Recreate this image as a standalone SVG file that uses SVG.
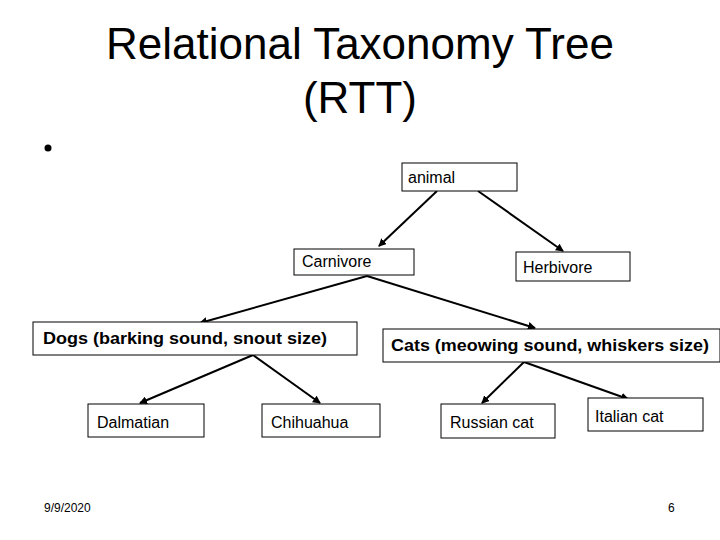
<svg xmlns="http://www.w3.org/2000/svg" width="720" height="540" viewBox="0 0 720 540">
<style>
.b{fill:#fff;stroke:#000;stroke-width:1}
.t{font-family:"Liberation Sans",Arial,sans-serif;font-size:16px;fill:#000}
.bd{font-weight:bold}
.c line{stroke:#000;stroke-width:2;marker-end:url(#a)}
</style>
<defs><marker id="a" markerWidth="8" markerHeight="8" refX="7" refY="4" orient="auto" markerUnits="userSpaceOnUse"><path d="M0,0 L8,4 L0,8 z" fill="#000"/></marker></defs>
<rect width="720" height="540" fill="#fff"/>
<text x="360" y="59" text-anchor="middle" font-family="Liberation Sans,Arial,sans-serif" font-size="44">Relational Taxonomy Tree</text>
<text x="360" y="113" text-anchor="middle" font-family="Liberation Sans,Arial,sans-serif" font-size="44">(RTT)</text>
<circle cx="48" cy="148" r="3.5" fill="#000"/>
<g class="c">
<line x1="437" y1="191" x2="379" y2="246"/>
<line x1="478" y1="191" x2="563" y2="251"/>
<line x1="367" y1="276" x2="200" y2="323"/>
<line x1="367" y1="276" x2="535" y2="328"/>
<line x1="253" y1="355" x2="140" y2="403"/>
<line x1="253" y1="355" x2="320" y2="403"/>
<line x1="524" y1="362" x2="482" y2="403"/>
<line x1="524" y1="362" x2="628" y2="399"/>
</g>
<g id="animal"><rect class="b" x="402" y="163" width="115" height="28"/><text class="t" x="408" y="183">animal</text></g>
<g id="carnivore"><rect class="b" x="294" y="249" width="120" height="26"/><text class="t" x="302" y="267">Carnivore</text></g>
<g id="herbivore"><rect class="b" x="516" y="252" width="114" height="29"/><text class="t" x="523" y="273">Herbivore</text></g>
<g id="dogs"><rect class="b" x="33" y="322" width="324" height="33"/><text class="t bd" x="43" y="344" textLength="284" lengthAdjust="spacingAndGlyphs">Dogs (barking sound, snout size)</text></g>
<g id="cats"><rect class="b" x="383" y="329" width="337" height="33"/><text class="t bd" x="391" y="351" textLength="318" lengthAdjust="spacingAndGlyphs">Cats (meowing sound, whiskers size)</text></g>
<g id="dalmatian"><rect class="b" x="88" y="404" width="116" height="33"/><text class="t" x="97" y="428">Dalmatian</text></g>
<g id="chihuahua"><rect class="b" x="262" y="404" width="118" height="33"/><text class="t" x="271" y="428">Chihuahua</text></g>
<g id="russian"><rect class="b" x="441" y="404" width="114" height="34"/><text class="t" x="450" y="428">Russian cat</text></g>
<g id="italian"><rect class="b" x="588" y="398" width="115" height="33"/><text class="t" x="595" y="422">Italian cat</text></g>
<text x="44" y="512" font-family="Liberation Sans,Arial,sans-serif" font-size="12">9/9/2020</text>
<text x="668" y="512" font-family="Liberation Sans,Arial,sans-serif" font-size="12">6</text>
</svg>
